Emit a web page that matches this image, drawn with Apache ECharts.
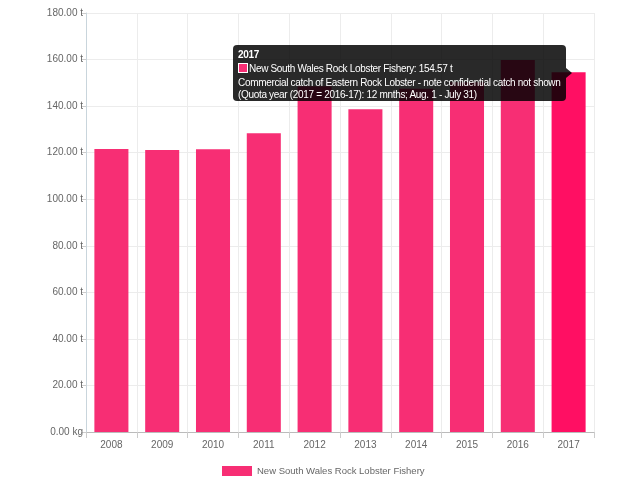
<!DOCTYPE html>
<html>
<head>
<meta charset="utf-8">
<script src="https://cdn.jsdelivr.net/npm/echarts@6/dist/echarts.min.js"></script>
<style>
html,body{margin:0;padding:0;background:#fff;}
#chart{width:622px;height:482px;}
</style>
</head>
<body>
<div id="chart"></div>
<script>
var categories = ['2008','2009','2010','2011','2012','2013','2014','2015','2016','2017'];
var catchValues = [121.6, 121.1, 121.5, 128.3, 148.5, 138.6, 147.5, 150.2, 159.8, 154.57];
var yTicks = [0, 20, 40, 60, 80, 100, 120, 140, 160, 180];
var seriesName = 'New South Wales Rock Lobster Fishery';
var noteLines = ['Commercial catch of Eastern Rock Lobster - note confidential catch not shown',
                 '(Quota year (2017 = 2016-17): 12 mnths; Aug. 1 - July 31)'];
var shownIndex = 9;

var chart = echarts.init(document.getElementById('chart'), null, {renderer:'canvas'});
var font = '"Liberation Sans", Arial, sans-serif';
var option = {
  animation: false,
  textStyle: {fontFamily: font},
  grid: {left: 86, right: 28, top: 13, bottom: 50},
  legend: {
    left: 217, top: 461,
    itemWidth: 30, itemHeight: 10, itemGap: 5,
    icon: 'rect',
    textStyle: {color: '#666', fontSize: 9.5, fontFamily: font},
    data: [seriesName]
  },
  tooltip: {
    trigger: 'item',
    triggerOn: 'none',
    alwaysShowContent: true,
    confine: false,
    backgroundColor: 'rgba(0,0,0,0.84)',
    borderWidth: 0,
    padding: [3, 5, 1, 5],
    extraCssText: 'border-radius:4px;box-shadow:none;overflow:visible;',
    position: function () { return [233, 45]; },
    formatter: function (p) {
      return '<div style="position:relative;font-family:' + font.replace(/"/g, "'") + ';font-size:10px;letter-spacing:-0.32px;line-height:11px;color:#fff;white-space:nowrap;">' +
        '<div style="font-weight:bold;line-height:14px;">' + p.name + '</div>' +
        '<div style="line-height:14px;"><span style="display:inline-block;width:8px;height:8px;background:#f72e74;border:1px solid #fff;vertical-align:-1px;margin-right:1px;"></span>' +
        p.seriesName + ': ' + p.value.toFixed(2) + ' t</div>' +
        '<div style="line-height:13px;">' + noteLines[0] + '</div>' +
        '<div>' + noteLines[1] + '</div>' +
        '<div style="position:absolute;right:-11px;top:20px;width:0;height:0;border-top:5px solid transparent;border-bottom:5px solid transparent;border-left:6px solid rgba(0,0,0,0.84);"></div>' +
        '</div>';
    }
  },
  xAxis: {
    type: 'category',
    data: categories,
    boundaryGap: true,
    axisLine: {lineStyle: {color: '#bbb'}},
    axisTick: {show: true, length: 6, lineStyle: {color: '#ccc'}},
    axisLabel: {color: '#666', fontSize: 10, margin: 8, fontFamily: font},
    splitLine: {show: true, lineStyle: {color: '#ececec'}}
  },
  yAxis: {
    type: 'value',
    min: yTicks[0], max: yTicks[yTicks.length - 1], interval: yTicks[1] - yTicks[0],
    axisLine: {show: true, lineStyle: {color: '#c9d5dc'}},
    axisTick: {show: true, length: 5, lineStyle: {color: '#ccc'}},
    axisLabel: {
      color: '#666', fontSize: 10, margin: 3, fontFamily: font,
      formatter: function (v) { return v === 0 ? '0.00 kg' : v.toFixed(2) + ' t'; }
    },
    splitLine: {show: true, lineStyle: {color: '#ececec'}}
  },
  series: [{
    name: seriesName,
    type: 'bar',
    data: catchValues,
    barCategoryGap: '33%',
    itemStyle: {color: '#f72e74'},
    emphasis: {itemStyle: {color: '#ff0f63'}}
  }]
};
chart.setOption(option);
chart.dispatchAction({type: 'highlight', seriesIndex: 0, dataIndex: shownIndex});
chart.dispatchAction({type: 'showTip', seriesIndex: 0, dataIndex: shownIndex});
</script>
</body>
</html>
